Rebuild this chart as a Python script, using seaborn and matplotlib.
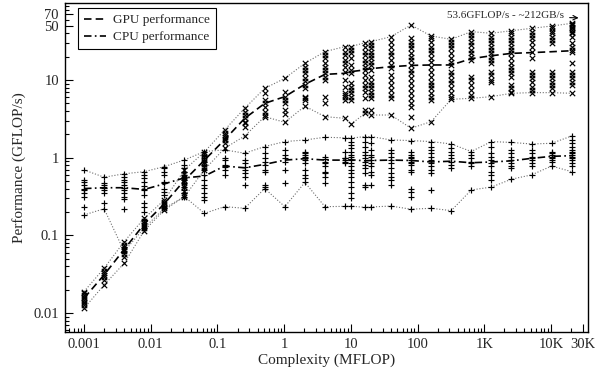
import numpy as np
import pandas as pd
import matplotlib
matplotlib.use("Agg")
import matplotlib.pyplot as plt
import seaborn as sns
from matplotlib.ticker import FixedLocator, FixedFormatter, LogLocator, NullFormatter

# ---------------- data ----------------
complexity = [0.001, 0.002, 0.004, 0.008, 0.016, 0.032, 0.064, 0.128, 0.256, 0.512,
              1.024, 2.048, 4.096, 8.192, 10, 16.384, 20, 40, 80, 160, 320, 640,
              1280, 2560, 5120, 10240, 20480]

gpu_points = [
    [0.0115, 0.0127, 0.0134, 0.014, 0.0148, 0.0155, 0.0163, 0.0171, 0.018, 0.0189],
    [0.023, 0.0267, 0.029, 0.031, 0.0332, 0.035, 0.0377],
    [0.0437, 0.053, 0.058, 0.062, 0.065, 0.070, 0.075, 0.083],
    [0.115, 0.124, 0.130, 0.136, 0.146, 0.155, 0.166],
    [0.212, 0.223, 0.234, 0.246, 0.259, 0.272, 0.285],
    [0.315, 0.331, 0.376, 0.415, 0.445, 0.48, 0.516, 0.56, 0.62, 0.695],
    [0.70, 0.767, 0.83, 0.89, 0.95, 1.03, 1.12, 1.19],
    [1.32, 1.55, 1.69, 1.75, 1.83, 1.96, 2.10, 2.27],
    [1.90, 2.51, 2.77, 2.91, 3.21, 3.54, 3.91, 4.32],
    [3.37, 3.55, 3.9, 4.54, 5.0, 5.5, 6.75, 7.8],
    [2.85, 3.7, 4.1, 5.0, 5.6, 6.1, 7.1, 10.5],
    [4.6, 5.5, 5.8, 6.0, 7.9, 8.7, 9.6, 10.6, 12.2, 13.3, 14.8, 16.4],
    [3.37, 5.0, 6.1, 10.0, 11.0, 12.2, 13.4, 14.8, 16.4, 19.0, 21.0, 23.2],
    [3.21, 5.53, 6.1, 6.41, 6.74, 8.21, 10.0, 12.8, 14.8, 16.4, 18.1, 21.0, 23.2, 26.9],
    [2.69, 5.53, 6.1, 6.74, 7.44, 8.21, 9.06, 12.2, 13.4, 15.6, 19.0, 22.0, 24.3, 26.9],
    [3.72, 4.11, 5.81, 7.07, 7.81, 8.62, 10.0, 11.6, 13.4, 14.8, 16.4, 18.1, 21.0, 23.2, 26.9, 30.2],
    [3.54, 4.11, 5.81, 6.41, 7.07, 7.81, 8.62, 9.52, 11.0, 13.4, 15.6, 17.2, 19.0, 21.0, 23.2, 25.6, 28.2, 31.1],
    [3.54, 5.81, 6.41, 7.44, 8.62, 10.0, 11.6, 14.1, 15.6, 18.1, 21.0, 23.2, 26.9, 31.1, 36.1],
    [2.39, 3.37, 4.54, 5.01, 5.81, 6.74, 7.81, 9.06, 10.5, 12.2, 13.4, 15.6, 18.1, 20.0, 22.0, 25.6, 28.2, 31.1, 34.4, 51.0],
    [2.91, 5.53, 6.10, 6.74, 7.81, 8.62, 9.52, 11.0, 12.8, 14.8, 17.2, 19.0, 22.0, 24.3, 26.9, 31.1, 34.4, 36.8],
    [5.64, 6.10, 6.74, 7.81, 9.06, 10.0, 11.6, 12.8, 15.6, 17.2, 19.0, 22.0, 25.6, 28.2, 31.1, 33.4],
    [5.81, 6.41, 7.44, 8.62, 10.0, 11.0, 18.1, 20.0, 22.0, 24.3, 28.2, 31.1, 34.4, 37.9, 41.9],
    [6.10, 9.52, 10.0, 11.6, 12.8, 16.4, 18.1, 20.0, 22.0, 24.3, 26.9, 29.6, 32.7, 36.1, 39.9],
    [6.74, 7.07, 7.81, 8.62, 11.0, 12.2, 13.4, 14.8, 16.4, 19.0, 22.0, 24.3, 26.9, 29.6, 32.7, 36.1, 39.9, 43.1],
    [6.87, 7.44, 8.21, 9.52, 10.5, 11.6, 12.8, 19.0, 23.2, 26.9, 31.1, 34.4, 37.9, 41.9, 46.2],
    [6.87, 7.81, 8.62, 9.52, 10.5, 11.6, 12.8, 29.6, 32.7, 36.1, 39.9, 43.1, 46.2, 49.5],
    [6.74, 8.62, 9.52, 10.5, 11.6, 12.8, 16.4, 23.2, 24.3, 26.9, 29.6, 36.1, 39.9, 41.9, 44.0, 46.2, 48.6, 50.5, 52.6, 53.6],
]

cpu_points = [
    [0.183, 0.23, 0.31, 0.35, 0.38, 0.40, 0.44, 0.48, 0.52, 0.695],
    [0.22, 0.26, 0.348, 0.384, 0.41, 0.445, 0.47, 0.56],
    [0.062, 0.07, 0.22, 0.29, 0.31, 0.35, 0.38, 0.41, 0.445, 0.48, 0.52, 0.57, 0.62],
    [0.125, 0.158, 0.202, 0.234, 0.26, 0.33, 0.384, 0.40, 0.43, 0.49, 0.54, 0.60, 0.66],
    [0.223, 0.33, 0.365, 0.40, 0.468, 0.49, 0.60, 0.66, 0.73, 0.767],
    [0.315, 0.348, 0.384, 0.424, 0.468, 0.516, 0.57, 0.60, 0.66, 0.73, 0.806, 0.934],
    [0.192, 0.285, 0.315, 0.348, 0.403, 0.445, 0.516, 0.60, 0.695, 0.81, 0.89, 0.98, 1.08, 1.2],
    [0.234, 0.60, 0.695, 0.767, 0.81, 0.934, 1.0, 1.26],
    [0.223, 0.445, 0.57, 0.63, 0.695, 0.767, 0.85, 0.934, 1.14],
    [0.40, 0.42, 0.445, 0.66, 0.695, 0.81, 0.89, 0.98, 1.14, 1.39],
    [0.234, 0.468, 0.695, 0.89, 0.98, 1.08, 1.26, 1.61],
    [0.48, 0.54, 0.60, 0.70, 0.85, 0.93, 0.98, 1.03, 1.08, 1.14, 1.2, 1.69],
    [0.234, 0.47, 0.57, 0.63, 0.66, 0.77, 0.85, 0.89, 0.95, 1.03, 1.83],
    [0.236, 0.85, 0.89, 0.93, 0.98, 1.0, 1.2, 1.8],
    [0.238, 0.30, 0.35, 0.42, 0.49, 0.57, 0.63, 0.70, 0.77, 0.85, 0.93, 1.03, 1.08, 1.2, 1.32, 1.46, 1.61, 1.78],
    [0.229, 0.424, 0.445, 0.63, 0.73, 0.81, 0.89, 0.98, 1.08, 1.2, 1.39, 1.61, 1.87],
    [0.232, 0.445, 0.60, 0.66, 0.77, 0.85, 0.93, 1.03, 1.08, 1.26, 1.53, 1.87],
    [0.238, 0.445, 0.52, 0.57, 0.63, 0.73, 0.85, 0.93, 1.03, 1.14, 1.26, 1.69],
    [0.217, 0.315, 0.365, 0.40, 0.66, 0.70, 0.81, 0.85, 0.89, 0.93, 0.98, 1.03, 1.08, 1.2, 1.66],
    [0.223, 0.384, 0.63, 0.70, 0.77, 0.85, 0.93, 1.03, 1.14, 1.26, 1.39, 1.61],
    [0.208, 0.73, 0.81, 0.89, 0.98, 1.08, 1.2, 1.32, 1.5],
    [0.384, 0.77, 0.85, 0.89, 0.98, 1.08, 1.2],
    [0.418, 0.516, 0.60, 0.66, 0.77, 0.85, 0.93, 1.03, 1.14, 1.39, 1.61],
    [0.528, 0.73, 0.77, 0.85, 0.93, 1.03, 1.14, 1.26, 1.57],
    [0.60, 0.77, 0.85, 0.93, 0.98, 1.03, 1.14, 1.26, 1.5],
    [0.78, 0.89, 0.93, 0.98, 1.03, 1.08, 1.14, 1.2, 1.53],
    [0.66, 0.77, 0.85, 0.93, 0.98, 1.03, 1.08, 1.14, 1.2, 1.26, 1.39, 1.53, 1.69, 1.9],
]

gpu_mean = [0.0155, 0.031, 0.066, 0.14, 0.255, 0.51, 0.93, 1.7, 3.2, 5.0, 6.1, 8.8,
            11.8, 12.2, 12.8, 13.5, 14.0, 14.8, 15.4, 15.6, 15.6, 18.8, 20.5, 22.0,
            22.5, 23.1, 23.8]
cpu_mean = [0.40, 0.41, 0.41, 0.39, 0.46, 0.55, 0.58, 0.78, 0.74, 0.82, 0.93, 0.97,
            0.93, 0.93, 0.94, 0.91, 0.92, 0.93, 0.92, 0.88, 0.90, 0.86, 0.88, 0.91,
            0.98, 1.04, 1.06]

series_labels = ["GPU performance", "CPU performance"]
x_ticks = [0.001, 0.01, 0.1, 1, 10, 100, 1000, 10000, 30000]
x_tick_labels = ["0.001", "0.01", "0.1", "1", "10", "100", "1K", "10K", "30K"]
y_ticks = [0.01, 0.1, 1, 10, 50, 70]
y_tick_labels = ["0.01", "0.1", "1", "10", "50", "70"]
peak_label = "53.6GFLOP/s - ~212GB/s"
x_label = "Complexity (MFLOP)"
y_label = "Performance (GFLOP/s)"

# ---------------- tables ----------------
rows = []
for x, g, c in zip(complexity, gpu_points, cpu_points):
    rows += [{"x": x, "y": v, "dev": "GPU"} for v in g]
    rows += [{"x": x, "y": v, "dev": "CPU"} for v in c]
pts = pd.DataFrame(rows)
env = pts.groupby(["dev", "x"])["y"].agg(["min", "max"]).reset_index()
gpu_line = pd.DataFrame({"x": complexity, "y": gpu_mean})
cpu_line = pd.DataFrame({"x": complexity, "y": cpu_mean})

# ---------------- style ----------------
sns.set_style("ticks")
plt.rcParams["font.family"] = ["Liberation Serif", "DejaVu Serif"]
plt.rcParams["axes.linewidth"] = 1.0

fig = plt.figure(figsize=(6.07, 3.77), dpi=100)
ax = fig.add_axes([0.1063, 0.1194, 0.8619, 0.8718])
ax.set_xscale("log")
ax.set_yscale("log")

# envelopes (dotted)
for dev in ["GPU", "CPU"]:
    e = env[env["dev"] == dev]
    for col in ["max", "min"]:
        sns.lineplot(data=e, x="x", y=col, ax=ax, color="#6e6e6e", lw=0.8,
                     linestyle=(0, (1, 1.6)), estimator=None, legend=False)

# scatter points
sns.scatterplot(data=pts[pts["dev"] == "GPU"], x="x", y="y", ax=ax, marker="x",
                color="black", s=15, linewidth=0.85, legend=False, zorder=3)
sns.scatterplot(data=pts[pts["dev"] == "CPU"], x="x", y="y", ax=ax, marker="+",
                color="black", s=24, linewidth=0.85, legend=False, zorder=3)

# mean lines
sns.lineplot(data=gpu_line, x="x", y="y", ax=ax, color="black", lw=1.2,
             linestyle=(0, (4.5, 2.5)), estimator=None, legend=False, zorder=4)
h_gpu = ax.lines[-1]
sns.lineplot(data=cpu_line, x="x", y="y", ax=ax, color="black", lw=1.2,
             linestyle=(0, (4.5, 2.0, 1.0, 2.0)), estimator=None, legend=False, zorder=4)
h_cpu = ax.lines[-1]

# axes
ax.set_xlim(0.00051, 35600)
ax.set_ylim(0.0057, 97)
ax.xaxis.set_major_locator(FixedLocator(x_ticks))
ax.xaxis.set_major_formatter(FixedFormatter(x_tick_labels))
ax.xaxis.set_minor_locator(LogLocator(base=10, subs=np.arange(2, 10), numticks=100))
ax.xaxis.set_minor_formatter(NullFormatter())
ax.yaxis.set_major_locator(FixedLocator(y_ticks))
ax.yaxis.set_major_formatter(FixedFormatter(y_tick_labels))
ax.yaxis.set_minor_locator(LogLocator(base=10, subs=np.arange(2, 10), numticks=100))
ax.yaxis.set_minor_formatter(NullFormatter())
ax.tick_params(which="both", direction="in", top=False, right=False, width=0.8,
               labelsize=10.5, color="black")
ax.tick_params(which="major", length=6, pad=4)
ax.tick_params(which="minor", length=3)
for s in ax.spines.values():
    s.set_visible(True)
    s.set_color("black")

ax.set_xlabel(x_label, fontsize=11, labelpad=2)
ax.set_ylabel(y_label, fontsize=11, labelpad=5)

leg = ax.legend([h_gpu, h_cpu], series_labels, loc="upper left",
                bbox_to_anchor=(0.026, 0.985), borderaxespad=0, fontsize=9.5,
                frameon=True, fancybox=False, framealpha=1, edgecolor="black",
                handlelength=1.7, handletextpad=0.5, borderpad=0.45, labelspacing=0.35)
leg.get_frame().set_linewidth(0.8)

ax.annotate(peak_label, xy=(26000, 63), xytext=(15500, 67), fontsize=8,
            ha="right", va="center",
            arrowprops=dict(arrowstyle="->", lw=0.8, color="black",
                            shrinkA=2, shrinkB=0))

fig.savefig("out.png", dpi=100)
